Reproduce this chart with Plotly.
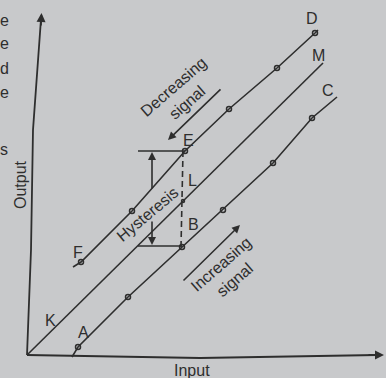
import plotly.graph_objects as go

# Input / output readings for the three calibration curves
dec_pts_in = [54, 105, 158, 202, 250, 288]          # F ... E ... D
dec_pts_out = [93, 144, 204, 246, 287, 322]
dec_line_in = [46] + dec_pts_in + [291]
dec_line_out = [88] + dec_pts_out + [325]

inc_pts_in = [51, 101, 155, 196, 246, 285]          # A ... B ... C
inc_pts_out = [8, 58, 108, 145, 192, 237]
inc_line_in = [45] + inc_pts_in + [310]
inc_line_out = [-2] + inc_pts_out + [258]

mid_line_in = [0, 296]                               # K ... M (mean curve)
mid_line_out = [0, 292]
mid_dot_in = [156]
mid_dot_out = [154]

# Axes
y_axis_in = [0, 4, 6, 14]
y_axis_out = [0, 105, 225, 336]
x_axis_in = [0, 173, 350]
x_axis_out = [0, -3, 0]

# Hysteresis bracket at the E-B input
hyst_in = 156
hyst_top = 204
hyst_bottom = 108
bracket_left = 111
bracket_x = 125

INK = "#2e2e2e"
BG = "#c8c9cb"
FONT = "Liberation Sans, Arial, sans-serif"

fig = go.Figure()

def line(xs, ys, dash="solid", width=1.6):
    fig.add_trace(go.Scatter(x=xs, y=ys, mode="lines",
                             line=dict(color=INK, width=width, dash=dash),
                             hoverinfo="skip", showlegend=False))

def dots(xs, ys, size=5):
    fig.add_trace(go.Scatter(x=xs, y=ys, mode="markers",
                             marker=dict(symbol="circle-open", size=size,
                                         color=INK, line=dict(width=1.5, color=INK)),
                             hoverinfo="skip", showlegend=False))

# axes
line(y_axis_in, y_axis_out, width=1.8)
line(x_axis_in, x_axis_out, width=1.8)

# curves
line(dec_line_in, dec_line_out)
line(mid_line_in, mid_line_out)
line(inc_line_in, inc_line_out)
dots(dec_pts_in, dec_pts_out)
dots(inc_pts_in, inc_pts_out)
dots(mid_dot_in, mid_dot_out, size=3)

# hysteresis bracket
line([bracket_left, hyst_in + 2], [hyst_top, hyst_top])
line([bracket_left, hyst_in - 1], [hyst_bottom + 1, hyst_bottom + 1])
line([hyst_in, hyst_in - 2], [hyst_top, hyst_bottom], dash="6px,4px")

def arrow(x0, y0, x1, y1, width=1.6, size=1.0):
    fig.add_annotation(x=x1, y=y1, ax=x0, ay=y0, xref="x", yref="y",
                       axref="x", ayref="y", text="", showarrow=True,
                       arrowhead=2, arrowsize=size, arrowwidth=width,
                       arrowcolor=INK)

arrow(bracket_x, 165, bracket_x, hyst_top - 1)
arrow(bracket_x, 135, bracket_x, hyst_bottom + 2)
arrow(195, 267, 141, 215)          # decreasing signal
arrow(155, 73, 213, 130)           # increasing signal
arrow(y_axis_in[-1] - 0.2, y_axis_out[-1] - 8, 14.5, 342, width=1.8)
arrow(x_axis_in[-1] - 10, 0, 357, 0, width=1.8)

def label(text, x, y, size=16, angle=0, xanchor="center", xshift=0):
    fig.add_annotation(x=x, y=y, xref="x", yref="y", text=text, showarrow=False,
                       textangle=angle, xanchor=xanchor, yanchor="middle",
                       xshift=xshift,
                       font=dict(family=FONT, size=size, color=INK))

for t, x, y in [("D", 285, 337), ("M", 291, 300), ("C", 301, 265),
                ("E", 161, 215), ("L", 165, 175), ("B", 166, 131),
                ("F", 51, 103), ("K", 23, 35), ("A", 56, 23)]:
    label(t, x, y)

label("Decreasing<br>signal", 153, 260, size=16, angle=-41)
label("Increasing<br>signal", 201, 83, size=16, angle=-41)
label("Hysteresis", 120, 141, size=16, angle=-40)
label("Output", -7, 170, size=16, angle=-90)
label("Input", 165, -15, size=16)

# edge of the facing page's text column
for t, y in [("e", 335), ("e", 312), ("d", 287), ("e", 263), ("s", 206)]:
    label(t, -26.5, y, size=16, xanchor="left", xshift=-3)

fig.update_layout(
    width=386, height=378,
    margin=dict(l=0, r=0, t=0, b=0),
    paper_bgcolor=BG, plot_bgcolor=BG,
    xaxis=dict(range=[-27, 359], visible=False, fixedrange=True),
    yaxis=dict(range=[-23, 355], visible=False, fixedrange=True),
    showlegend=False,
)

fig.write_html("out.html")
